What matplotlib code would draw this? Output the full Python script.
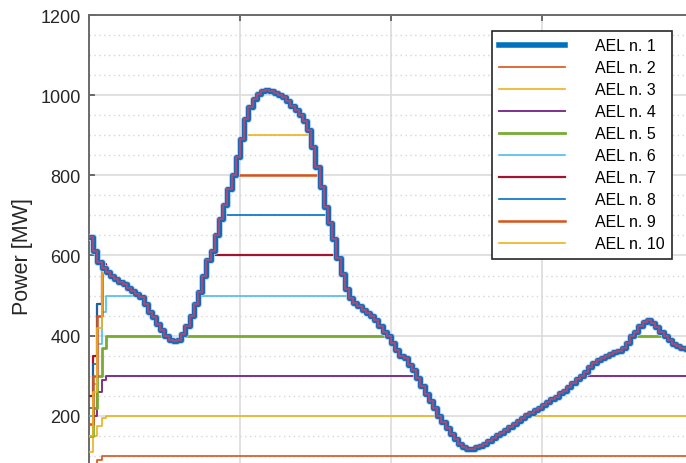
import numpy as np
import matplotlib
matplotlib.use("Agg")
import matplotlib.pyplot as plt
import matplotlib.patheffects as pe
from matplotlib.lines import Line2D
from matplotlib.ticker import MultipleLocator

plt.rcParams['font.family'] = ['Liberation Sans', 'DejaVu Sans']

# total power, 10-minute steps over 24 h
total = [645, 610, 585, 570, 558, 550, 542, 535, 528, 520,
         512, 505, 497, 480, 460, 447, 430, 413, 400, 390,
         386, 390, 405, 425, 448, 478, 510, 550, 590, 610,
         650, 690, 725, 765, 800, 845, 890, 940, 970, 990,
         1002, 1010, 1012, 1010, 1005, 1000, 995, 985, 972, 962,
         950, 935, 912, 870, 820, 770, 720, 680, 640, 595,
         555, 517, 495, 482, 473, 465, 457, 448, 438, 425,
         410, 398, 382, 365, 350, 345, 328, 315, 295, 275,
         255, 237, 220, 200, 185, 170, 155, 142, 130, 122,
         118, 118, 122, 125, 130, 137, 145, 152, 158, 165,
         172, 180, 188, 195, 202, 208, 214, 220, 227, 234,
         241, 248, 256, 263, 272, 282, 292, 300, 310, 322,
         332, 340, 345, 350, 354, 358, 362, 370, 382, 398,
         410, 425, 435, 438, 432, 422, 410, 398, 388, 380,
         374, 370, 367, 364]

labels = ['AEL n. %d' % i for i in range(1, 11)]
caps = [None, 100, 200, 300, 400, 500, 600, 700, 800, 900]
# start-up values of the single units (first four steps)
ramp = [None,
        [40, 60, 90, 100],
        [110, 150, 175, 195],
        [150, 200, 260, 290],
        [150, 220, 300, 370],
        [200, 280, 380, 460],
        [250, 350, 480, 580],
        [220, 330, 480, 570],
        [180, 300, 450, 570],
        [150, 260, 420, 570]]
yticks = [200, 400, 600, 800, 1000, 1200]

colors = ['#0072BD', '#D95319', '#EDB120', '#7E2F8E', '#77AC30',
          '#4DBEEE', '#A2142F', '#0072BD', '#D95319', '#EDB120']
widths = [3.4, 1.2, 1.2, 1.4, 2.0, 1.2, 1.6, 1.2, 1.8, 1.2]

total = np.array(total, dtype=float)
t = np.arange(len(total) + 1) / 6.0

fig = plt.figure(figsize=(6.86, 4.64), dpi=100)
ax = fig.add_axes([0.1297, -0.0711, 0.8805, 1.0366])

handles = []
for i in range(10):
    if caps[i] is None:
        y = total.copy()
    else:
        y = np.minimum(total, caps[i])
        y[:4] = np.minimum(ramp[i], caps[i])
    y = np.append(y, y[-1])
    if i == 0:
        ln, = ax.step(t, y, where='post', color=colors[i], lw=widths[i], zorder=4,
                      path_effects=[pe.Stroke(linewidth=4.8, foreground='#a6cdea'),
                                    pe.Stroke(linewidth=3.6, foreground='#1a68b8'),
                                    pe.Stroke(linewidth=1.5, foreground='#9b4f7c')])
        handles.append(Line2D([], [], color=colors[i], lw=widths[i] + 0.6))
    else:
        ln, = ax.step(t, y, where='post', color=colors[i], lw=widths[i], zorder=3)
        handles.append(ln)

ax.set_xlim(0, 24)
ax.set_ylim(0, 1200)
ax.xaxis.set_major_locator(MultipleLocator(6))
ax.set_yticks(yticks)
ax.yaxis.set_minor_locator(MultipleLocator(50))
ax.grid(which='major', color='#dcdcdc', lw=1.2)
ax.grid(which='minor', axis='y', color='#d6d6d6', lw=1.0, linestyle=(0, (1, 2.5)))
ax.set_axisbelow(True)
ax.tick_params(which='major', direction='in', length=4, width=1.2, color='#555555',
               top=True, right=True, labelsize=13, pad=6, labelcolor='#262626',
               labelbottom=False)
ax.tick_params(which='minor', length=0)
for s in ax.spines.values():
    s.set_color('#6a6a6a')
    s.set_linewidth(1.4)
ax.set_ylabel('Power [MW]', fontsize=15.5, color='#262626', labelpad=5)

leg = fig.legend(handles, labels, loc='upper left', bbox_to_anchor=(0.717, 0.931),
                 fontsize=11.5, frameon=True, fancybox=False, framealpha=1,
                 edgecolor='#262626', borderpad=0.45, borderaxespad=0,
                 handlelength=4.1, handletextpad=1.9, labelspacing=0.44)
leg.get_frame().set_linewidth(1.2)

fig.savefig('out.png', dpi=100)
